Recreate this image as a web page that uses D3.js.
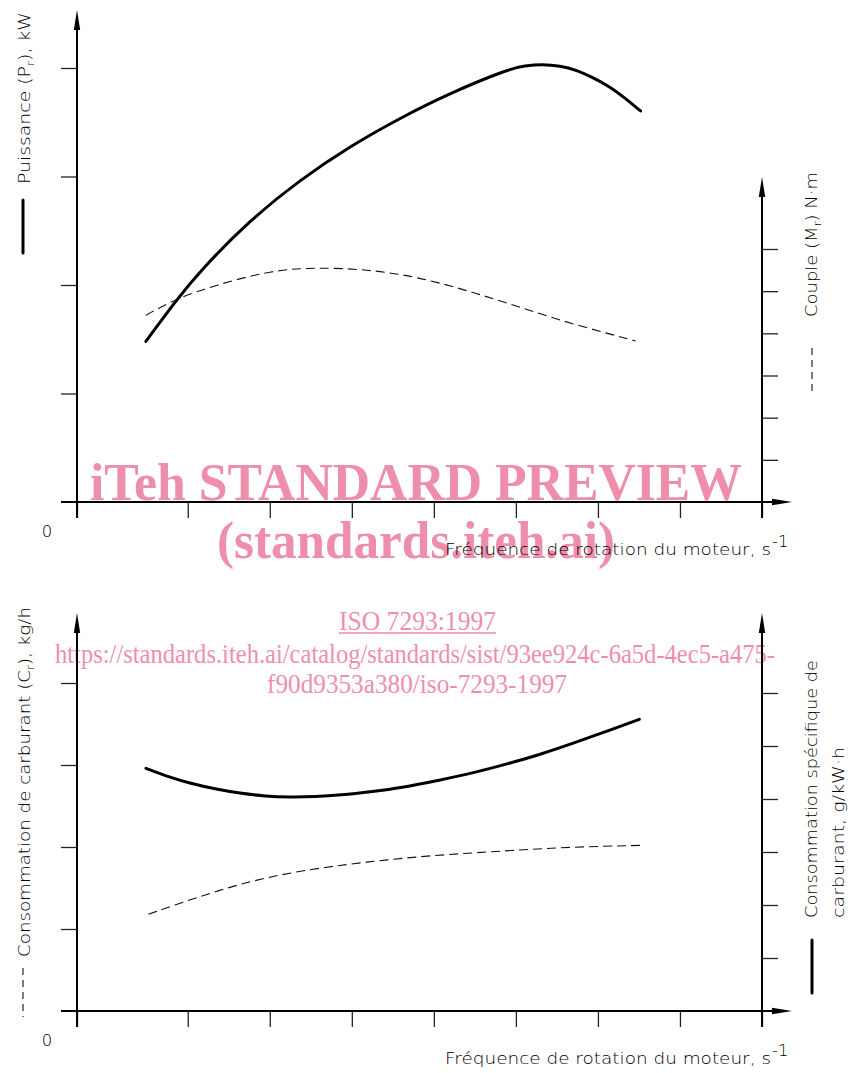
<!DOCTYPE html>
<html>
<head>
<meta charset="utf-8">
<script src="https://cdn.jsdelivr.net/npm/d3@7"></script>
<style>
  html, body { margin: 0; padding: 0; background: #fff; }
  svg { display: block; }
  .lbl { font-family: "DejaVu Sans", sans-serif; font-size: 16.5px; font-weight: 200; fill: #000; }
  .wm { font-family: "Liberation Serif", "Times New Roman", serif; fill: #ef8eab; }
</style>
</head>
<body>
<svg id="chart" width="848" height="1073"></svg>
<script>
// ---- data ----
const xTicks = [0, 13.5, 23.5, 33.5, 43.5, 53.5, 63.5, 73.5, 83.5];
const pTicks = [10, 20, 30, 40];
const mTicks = [10, 20, 30, 40, 50, 60];
const cTicks = [10, 20, 30, 40];
const sTicks = [10, 20, 30, 40, 50, 60];

const freqP  = [8.4, 12.0, 15.0, 21.1, 27.2, 33.3, 39.4, 45.5, 52.6, 54.6, 56.7, 58.9, 60.9, 62.9, 65.0, 66.8, 68.7];
const power  = [14.8, 18.5, 21.3, 26.0, 29.7, 32.8, 35.4, 37.7, 39.9, 40.2, 40.35, 40.2, 39.8, 39.12, 38.25, 37.23, 36.04];

const freqM  = [8.4, 12.2, 16.8, 23.8, 29.1, 35.3, 41.5, 47.7, 53.8, 60.0, 68.1];
const torque = [44.3, 48.3, 51.4, 55.0, 55.6, 55.2, 53.4, 50.1, 46.3, 42.4, 38.2];

const freqS    = [8.41, 11.34, 13.78, 16.83, 19.88, 22.93, 25.98, 29.02, 32.07, 36.10, 39.39, 44.27, 48.29, 52.44, 56.46, 60.49, 64.51, 68.54];
const specific = [45.79, 44.08, 42.96, 41.89, 41.08, 40.51, 40.32, 40.42, 40.72, 41.42, 42.08, 43.58, 44.91, 46.60, 48.40, 50.51, 52.74, 55.04];

const freqC = [8.7, 14.7, 20.9, 27.1, 35.3, 43.5, 51.8, 60.0, 68.9];
const fuel  = [11.8, 13.9, 15.8, 17.1, 18.2, 19.0, 19.5, 20.0, 20.2];

const xLabel = "Fréquence de rotation du moteur, s";

// ---- drawing ----
const svg = d3.select("#chart");

// watermark (drawn first, under the chart)
const wm = svg.append("g");
wm.append("text").attr("class", "wm").attr("x", 90).attr("y", 500)
  .attr("font-size", 53).attr("font-weight", "bold")
  .attr("textLength", 652).attr("lengthAdjust", "spacingAndGlyphs")
  .text("iTeh STANDARD PREVIEW");
wm.append("text").attr("class", "wm").attr("x", 217).attr("y", 558)
  .attr("font-size", 52).attr("font-weight", "bold")
  .attr("textLength", 398).attr("lengthAdjust", "spacingAndGlyphs")
  .text("(standards.iteh.ai)");
wm.append("text").attr("class", "wm").attr("x", 339).attr("y", 630)
  .attr("font-size", 28).attr("textLength", 157).attr("lengthAdjust", "spacingAndGlyphs")
  .text("ISO 7293:1997");
wm.append("line").attr("x1", 339).attr("x2", 496).attr("y1", 633).attr("y2", 633)
  .attr("stroke", "#ef8eab").attr("stroke-width", 1.3);
wm.append("text").attr("class", "wm").attr("x", 55).attr("y", 663)
  .attr("font-size", 28).attr("textLength", 720).attr("lengthAdjust", "spacingAndGlyphs")
  .text("https://standards.iteh.ai/catalog/standards/sist/93ee924c-6a5d-4ec5-a475-");
wm.append("text").attr("class", "wm").attr("x", 267).attr("y", 693)
  .attr("font-size", 28).attr("textLength", 300).attr("lengthAdjust", "spacingAndGlyphs")
  .text("f90d9353a380/iso-7293-1997");

const x = d3.scaleLinear().domain([0, 83.5]).range([77, 762]);

function arrowUp(g, cx, tip) {
  g.append("path").attr("d", `M${cx},${tip} L${cx - 3.2},${tip + 20} L${cx + 3.2},${tip + 20} Z`).attr("fill", "#000");
}
function arrowRight(g, tip, cy) {
  g.append("path").attr("d", `M${tip},${cy} L${tip - 20},${cy - 3.2} L${tip - 20},${cy + 3.2} Z`).attr("fill", "#000");
}

function panel(opt) {
  const g = svg.append("g");
  const base = opt.base;
  const yL = d3.scaleLinear().domain([0, 40]).range([base, opt.leftTop]);
  const yR = d3.scaleLinear().domain([0, 60]).range([base, opt.rightTop]);

  const axL = g.append("g").attr("transform", "translate(77,0)")
    .call(d3.axisLeft(yL).tickValues(opt.lTicks).tickSize(16).tickFormat(""));
  const axR = g.append("g").attr("transform", "translate(762,0)")
    .call(d3.axisRight(yR).tickValues(opt.rTicks).tickSize(16).tickFormat(""));
  const axB = g.append("g").attr("transform", `translate(0,${base})`)
    .call(d3.axisBottom(x).tickValues(xTicks).tickSize(16).tickFormat(""));
  [axL, axR, axB].forEach(a => {
    a.select(".domain").remove();
    a.selectAll(".tick line").attr("stroke", "#222").attr("stroke-width", 1.3);
  });

  g.append("line").attr("x1", 77).attr("x2", 77).attr("y1", base + 16).attr("y2", opt.arrowTop + 6)
    .attr("stroke", "#000").attr("stroke-width", 2);
  arrowUp(g, 77, opt.arrowTop);
  g.append("line").attr("x1", 762).attr("x2", 762).attr("y1", base + 16).attr("y2", opt.arrowTopR + 6)
    .attr("stroke", "#000").attr("stroke-width", 2);
  arrowUp(g, 762, opt.arrowTopR);
  g.append("line").attr("x1", 61).attr("x2", 786).attr("y1", base).attr("y2", base)
    .attr("stroke", "#000").attr("stroke-width", 2);
  arrowRight(g, 792, base);

  const lineSolid = d3.line().curve(d3.curveBasis)
    .x(d => x(d[0])).y(d => opt.solidScale === "L" ? yL(d[1]) : yR(d[1]));
  const lineDash = d3.line().curve(d3.curveBasis)
    .x(d => x(d[0])).y(d => opt.dashScale === "L" ? yL(d[1]) : yR(d[1]));

  g.append("path").datum(d3.zip(opt.dashX, opt.dashY)).attr("d", lineDash)
    .attr("fill", "none").attr("stroke", "#111").attr("stroke-width", 1.1)
    .attr("stroke-dasharray", "9,5");
  g.append("path").datum(d3.zip(opt.solidX, opt.solidY)).attr("d", lineSolid)
    .attr("fill", "none").attr("stroke", "#000").attr("stroke-width", 3)
    .attr("stroke-linecap", "round");

  g.append("text").attr("class", "lbl").attr("x", 47).attr("y", base + 35)
    .attr("text-anchor", "middle").text("0");

  g.append("text").attr("class", "lbl").attr("x", 445).attr("y", base + 53)
    .attr("textLength", 326).attr("lengthAdjust", "spacingAndGlyphs").text(xLabel);
  g.append("text").attr("class", "lbl").attr("x", 772).attr("y", base + 45)
    .attr("font-size", 11.5).text("-1");
  return g;
}

function rotLabel(g, px, py, len, parts) {
  const t = g.append("text").attr("class", "lbl")
    .attr("transform", `translate(${px},${py}) rotate(-90)`)
    .attr("textLength", len).attr("lengthAdjust", "spacingAndGlyphs");
  parts.forEach(p => {
    const s = t.append("tspan").text(p.t);
    if (p.sub) s.attr("font-size", 11).attr("dy", 4);
    if (p.back) s.attr("dy", -4);
  });
  return t;
}

// ---- top panel ----
const topG = panel({
  base: 502, leftTop: 68, rightTop: 249, arrowTop: 10, arrowTopR: 177,
  lTicks: pTicks, rTicks: mTicks,
  solidX: freqP, solidY: power, solidScale: "L",
  dashX: freqM, dashY: torque, dashScale: "R"
});
rotLabel(topG, 30, 184, 172, [{t: "Puissance ("}, {t: "P"}, {t: "r", sub: true}, {t: "), kW", back: true}]);
topG.append("line").attr("x1", 23).attr("x2", 23).attr("y1", 200).attr("y2", 253)
  .attr("stroke", "#000").attr("stroke-width", 3).attr("stroke-linecap", "round");
rotLabel(topG, 817, 317, 145, [{t: "Couple ("}, {t: "M"}, {t: "r", sub: true}, {t: ") N·m", back: true}]);
topG.append("line").attr("x1", 812).attr("x2", 812).attr("y1", 348).attr("y2", 395)
  .attr("stroke", "#111").attr("stroke-width", 1.1).attr("stroke-dasharray", "7,5");

// ---- bottom panel ----
const botG = panel({
  base: 1011, leftTop: 683, rightTop: 693, arrowTop: 613, arrowTopR: 613,
  lTicks: cTicks, rTicks: sTicks,
  solidX: freqS, solidY: specific, solidScale: "R",
  dashX: freqC, dashY: fuel, dashScale: "L"
});
rotLabel(botG, 30, 957, 350, [{t: "Consommation de carburant ("}, {t: "C"}, {t: "r", sub: true}, {t: "), kg/h", back: true}]);
botG.append("line").attr("x1", 23).attr("x2", 23).attr("y1", 968).attr("y2", 1017)
  .attr("stroke", "#111").attr("stroke-width", 1.1).attr("stroke-dasharray", "7,5");
rotLabel(botG, 817, 918, 258, [{t: "Consommation spécifique de"}]);
rotLabel(botG, 844, 918, 171, [{t: "carburant, g/kW·h"}]);
botG.append("line").attr("x1", 812).attr("x2", 812).attr("y1", 940).attr("y2", 993)
  .attr("stroke", "#000").attr("stroke-width", 3).attr("stroke-linecap", "round");
</script>
</body>
</html>
